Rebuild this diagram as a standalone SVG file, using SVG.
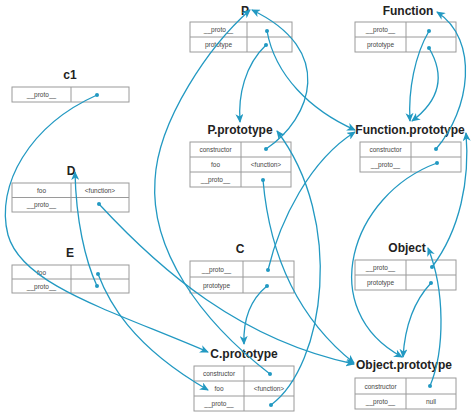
<svg xmlns="http://www.w3.org/2000/svg" width="474" height="418" viewBox="0 0 474 418">
<style>
.t{font-family:"Liberation Sans",Arial,sans-serif;font-weight:bold;font-size:12px;fill:#222;text-anchor:middle}
.c{font-family:"Liberation Sans",Arial,sans-serif;font-size:6.5px;fill:#444;text-anchor:middle}
.b{fill:#fff;stroke:#9a9a9a;stroke-width:1}
.l{stroke:#9a9a9a;stroke-width:1}
.e{fill:none;stroke:#2299c2;stroke-width:1.3;marker-end:url(#a)}
.d{fill:#2299c2}
</style>
<defs>
<marker id="a" markerUnits="userSpaceOnUse" markerWidth="9" markerHeight="8" refX="8" refY="4" orient="auto">
<path d="M0,0 L9,4 L0,8 L2.5,4 z" fill="#2299c2"/>
</marker>
</defs>
<g id="node-P">
<text class="t" x="245" y="15">P</text>
<rect class="b" x="190" y="22" width="102" height="30"/>
<line class="l" x1="190" y1="37" x2="292" y2="37"/><line class="l" x1="247" y1="22" x2="247" y2="52"/>
<text class="c" x="218.5" y="32">__proto__</text><text class="c" x="218.5" y="47">prototype</text>
</g>
<g id="node-Function">
<text class="t" x="408" y="15">Function</text>
<rect class="b" x="355" y="22" width="101" height="30"/>
<line class="l" x1="355" y1="37" x2="456" y2="37"/><line class="l" x1="406" y1="22" x2="406" y2="52"/>
<text class="c" x="380.5" y="32">__proto__</text><text class="c" x="380.5" y="47">prototype</text>
</g>
<g id="node-c1">
<text class="t" x="70" y="79">c1</text>
<rect class="b" x="12" y="87" width="117" height="15"/>
<line class="l" x1="71" y1="87" x2="71" y2="102"/>
<text class="c" x="41.5" y="97">__proto__</text>
</g>
<g id="node-Pprototype">
<text class="t" x="240" y="134">P.prototype</text>
<rect class="b" x="190" y="142" width="101" height="45"/>
<line class="l" x1="190" y1="157" x2="291" y2="157"/><line class="l" x1="190" y1="172" x2="291" y2="172"/><line class="l" x1="241" y1="142" x2="241" y2="187"/>
<text class="c" x="215.5" y="152">constructor</text><text class="c" x="215.5" y="167">foo</text><text class="c" x="266" y="167">&lt;function&gt;</text><text class="c" x="215.5" y="182">__proto__</text>
</g>
<g id="node-Functionprototype">
<text class="t" x="410" y="134">Function.prototype</text>
<rect class="b" x="360" y="142" width="101" height="30"/>
<line class="l" x1="360" y1="157" x2="461" y2="157"/><line class="l" x1="411" y1="142" x2="411" y2="172"/>
<text class="c" x="385.5" y="152">constructor</text><text class="c" x="385.5" y="167">__proto__</text>
</g>
<g id="node-D">
<text class="t" x="71" y="175">D</text>
<rect class="b" x="12" y="183" width="117" height="29"/>
<line class="l" x1="12" y1="197.5" x2="129" y2="197.5"/><line class="l" x1="71" y1="183" x2="71" y2="212"/>
<text class="c" x="41.5" y="192.5">foo</text><text class="c" x="100" y="192.5">&lt;function&gt;</text><text class="c" x="41.5" y="207">__proto__</text>
</g>
<g id="node-E">
<text class="t" x="70" y="257">E</text>
<rect class="b" x="12" y="265" width="117" height="28"/>
<line class="l" x1="12" y1="279" x2="129" y2="279"/><line class="l" x1="71" y1="265" x2="71" y2="293"/>
<text class="c" x="41.5" y="274.5">foo</text><text class="c" x="41.5" y="288.5">__proto__</text>
</g>
<g id="node-C">
<text class="t" x="240" y="253">C</text>
<rect class="b" x="190" y="261" width="104" height="32"/>
<line class="l" x1="190" y1="277" x2="294" y2="277"/><line class="l" x1="243" y1="261" x2="243" y2="293"/>
<text class="c" x="216.5" y="271.5">__proto__</text><text class="c" x="216.5" y="287.5">prototype</text>
</g>
<g id="node-Object">
<text class="t" x="407" y="252">Object</text>
<rect class="b" x="355" y="260" width="101" height="30"/>
<line class="l" x1="355" y1="275" x2="456" y2="275"/><line class="l" x1="406" y1="260" x2="406" y2="290"/>
<text class="c" x="380.5" y="270">__proto__</text><text class="c" x="380.5" y="285">prototype</text>
</g>
<g id="node-Cprototype">
<text class="t" x="244" y="358">C.prototype</text>
<rect class="b" x="194" y="366" width="100" height="45"/>
<line class="l" x1="194" y1="381" x2="294" y2="381"/><line class="l" x1="194" y1="396" x2="294" y2="396"/><line class="l" x1="244" y1="366" x2="244" y2="411"/>
<text class="c" x="219" y="376">constructor</text><text class="c" x="219" y="391">foo</text><text class="c" x="269" y="391">&lt;function&gt;</text><text class="c" x="219" y="406">__proto__</text>
</g>
<g id="node-Objectprototype">
<text class="t" x="404" y="369">Object.prototype</text>
<rect class="b" x="355" y="378" width="101" height="31"/>
<line class="l" x1="355" y1="394" x2="456" y2="394"/><line class="l" x1="406" y1="378" x2="406" y2="409"/>
<text class="c" x="380.5" y="388.5">constructor</text><text class="c" x="380.5" y="404">__proto__</text><text class="c" x="431" y="404">null</text>
</g>
<g id="connectors">
<path class="e" d="M97,95 C30,125 -5,185 8,235 C22,285 110,310 208,352"/>
<path class="e" d="M98,274 C108,300 130,345 208,390"/>
<path class="e" d="M97,286 C85,260 76,220 75,172"/>
<path class="e" d="M99,204 C160,270 240,340 354,364"/>
<path class="e" d="M267,31 C275,75 310,110 355,130"/>
<path class="e" d="M266,45 C245,65 238,95 240,122"/>
<path class="e" d="M266,149 C312,118 336,50 252,10"/>
<path class="e" d="M270,374 C200,320 150,250 155,180 C158,120 210,45 250,10"/>
<path class="e" d="M271,405 C325,365 345,220 277,131"/>
<path class="e" d="M268,270 C280,220 310,160 355,132"/>
<path class="e" d="M267,286 C250,300 243,320 244,344"/>
<path class="e" d="M263,180 C270,260 300,320 354,363"/>
<path class="e" d="M429,31 C415,55 408,90 410,121"/>
<path class="e" d="M429,48 C445,75 440,100 412,121"/>
<path class="e" d="M436,149 C470,110 480,40 437,12"/>
<path class="e" d="M437,163 C350,195 315,310 402,357"/>
<path class="e" d="M431,283 C415,300 405,325 403,357"/>
<path class="e" d="M432,267 C460,230 470,180 466,133"/>
<path class="e" d="M430,386 C445,350 445,290 428,248"/>
<g class="d">
<circle cx="97" cy="95" r="2"/><circle cx="98" cy="274" r="2"/><circle cx="97" cy="286" r="2"/><circle cx="99" cy="204" r="2"/>
<circle cx="267" cy="31" r="2"/><circle cx="266" cy="45" r="2"/><circle cx="266" cy="149" r="2"/><circle cx="270" cy="374" r="2"/>
<circle cx="271" cy="405" r="2"/><circle cx="268" cy="270" r="2"/><circle cx="267" cy="286" r="2"/><circle cx="263" cy="180" r="2"/>
<circle cx="429" cy="31" r="2"/><circle cx="429" cy="48" r="2"/><circle cx="436" cy="149" r="2"/><circle cx="437" cy="163" r="2"/>
<circle cx="431" cy="283" r="2"/><circle cx="432" cy="267" r="2"/><circle cx="430" cy="386" r="2"/>
</g>
</g>
</svg>
